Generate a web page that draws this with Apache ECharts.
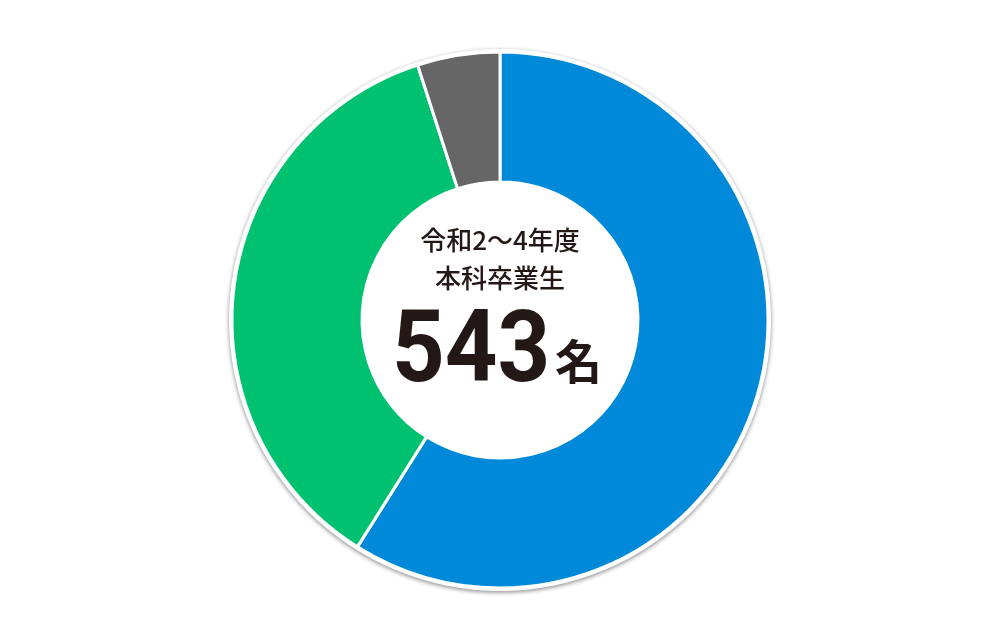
<!DOCTYPE html>
<html><head><meta charset="utf-8">
<script src="https://cdn.jsdelivr.net/npm/echarts@6/dist/echarts.min.js"></script>
<style>html,body{margin:0;padding:0;background:#fff}#c{width:1000px;height:640px}</style>
</head><body><div id="c"></div>
<script>
const categories = ['A', 'B', 'C'];
const values = [320, 196, 27];
const colors = ['#0088D9', '#00C170', '#666666'];
const titleLine1 = '令和2〜4年度';
const titleLine2 = '本科卒業生';
const totalText = '543';
const unitText = '名';

const chart = echarts.init(document.getElementById('c'), null, {renderer: 'canvas'});
chart.setOption({
  animation: false,
  series: [
    {
      type: 'pie', silent: true, center: [500, 320], radius: [0, 271],
      label: {show: false}, labelLine: {show: false},
      itemStyle: {color: '#ffffff', shadowBlur: 4, shadowColor: 'rgba(0,0,0,0.45)', shadowOffsetY: 1.5},
      data: [{value: 1, name: 'bg'}], z: 1
    },
    {
      type: 'pie', silent: true, center: [500, 320], radius: [138, 268],
      startAngle: 90, clockwise: true,
      label: {show: false}, labelLine: {show: false},
      itemStyle: {borderColor: '#ffffff', borderWidth: 3},
      data: categories.map((c, i) => ({name: c, value: values[i], itemStyle: {color: colors[i]}})),
      z: 2
    }
  ],
  graphic: [
    {type: 'text', left: 'center', top: 227, z: 10, style: {text: titleLine1, font: '500 26px "Noto Sans CJK JP"', fill: '#231815'}},
    {type: 'text', left: 'center', top: 265, z: 10, style: {text: titleLine2, font: '500 26px "Noto Sans CJK JP"', fill: '#231815'}},
    {type: 'text', x: 392, y: 306, scaleX: 0.92, z: 10, style: {text: totalText, font: 'bold 100px Roboto', fill: '#231815'}},
    {type: 'text', x: 555, y: 338, z: 10, style: {text: unitText, font: 'bold 47px "Noto Sans CJK JP"', fill: '#231815'}}
  ]
});
</script></body></html>
